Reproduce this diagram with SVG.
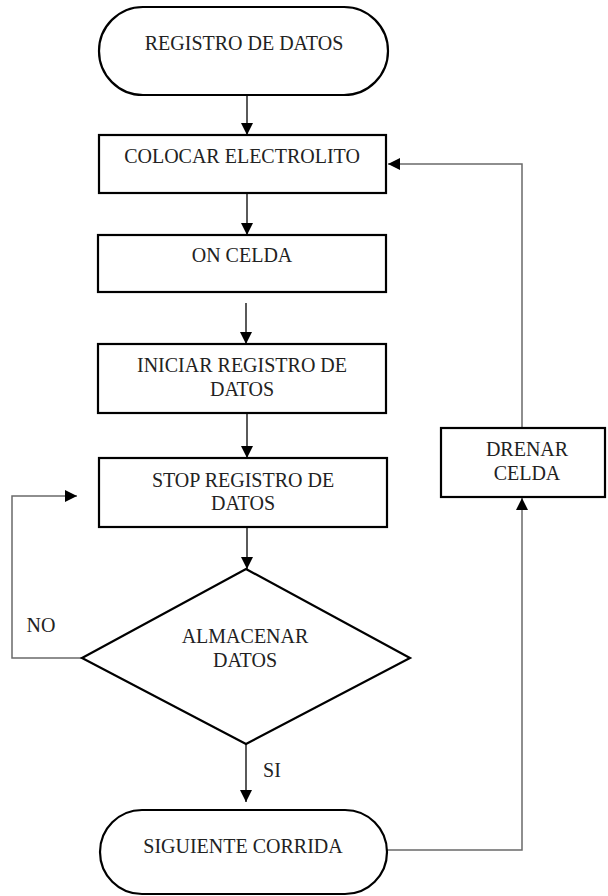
<svg xmlns="http://www.w3.org/2000/svg" width="608" height="896" viewBox="0 0 608 896">
<style>
.shape{fill:#fff;stroke:#000;stroke-width:2.2}
.t{font-family:'Liberation Serif','Times New Roman',serif;font-size:20px;fill:#222;text-anchor:middle}
.c{fill:none;stroke:#000;stroke-width:1.3}
.g{fill:none;stroke:#6a6a6a;stroke-width:1.5}
</style>
<defs>
<marker id="ah" viewBox="0 0 12 12" refX="12" refY="6" markerWidth="12" markerHeight="12" markerUnits="userSpaceOnUse" orient="auto">
<path d="M0,0 L12,6 L0,12 Z" fill="#000"/>
</marker>
</defs>
<rect width="608" height="896" fill="#fff"/>
<g id="connectors">
<line class="c" x1="247" y1="95" x2="247" y2="135" marker-end="url(#ah)"/>
<line class="c" x1="247" y1="193" x2="247" y2="235" marker-end="url(#ah)"/>
<line class="c" x1="246" y1="303" x2="246" y2="344" marker-end="url(#ah)"/>
<line class="c" x1="247" y1="413" x2="247" y2="458" marker-end="url(#ah)"/>
<line class="c" x1="247" y1="527" x2="247" y2="569" marker-end="url(#ah)"/>
<line class="c" x1="246" y1="744" x2="246" y2="802" marker-end="url(#ah)"/>
<polyline class="g" points="82,658 12,658 12,496 77,496" marker-end="url(#ah)"/>
<polyline class="g" points="522,427 522,164 388,164" marker-end="url(#ah)"/>
<polyline class="g" points="387,850 522,850 522,498" marker-end="url(#ah)"/>
<text class="t" x="41" y="632">NO</text>
<text class="t" x="272" y="777">SI</text>
</g>
<g id="registro">
<rect class="shape" x="99" y="7" width="289" height="88" rx="44" ry="44"/>
<text class="t" x="244" y="50">REGISTRO DE DATOS</text>
</g>
<g id="colocar">
<rect class="shape" x="99" y="135" width="287" height="58"/>
<text class="t" x="242" y="163">COLOCAR ELECTROLITO</text>
</g>
<g id="on-celda">
<rect class="shape" x="98" y="235" width="288" height="57"/>
<text class="t" x="242" y="262">ON CELDA</text>
</g>
<g id="iniciar">
<rect class="shape" x="98" y="344" width="288" height="69"/>
<text class="t" x="242" y="372">INICIAR REGISTRO DE</text>
<text class="t" x="242" y="396">DATOS</text>
</g>
<g id="stop">
<rect class="shape" x="99" y="458" width="288" height="69"/>
<text class="t" x="243" y="487">STOP REGISTRO DE</text>
<text class="t" x="243" y="510">DATOS</text>
</g>
<g id="almacenar">
<polygon class="shape" points="246,569 410,658 246,744 82,658"/>
<text class="t" x="245" y="643">ALMACENAR</text>
<text class="t" x="245" y="667">DATOS</text>
</g>
<g id="siguiente">
<rect class="shape" x="100" y="810" width="287" height="84" rx="42" ry="42"/>
<text class="t" x="243" y="853">SIGUIENTE CORRIDA</text>
</g>
<g id="drenar">
<rect class="shape" x="441" y="428" width="164" height="69"/>
<text class="t" x="527" y="456">DRENAR</text>
<text class="t" x="527" y="480">CELDA</text>
</g>
</svg>
